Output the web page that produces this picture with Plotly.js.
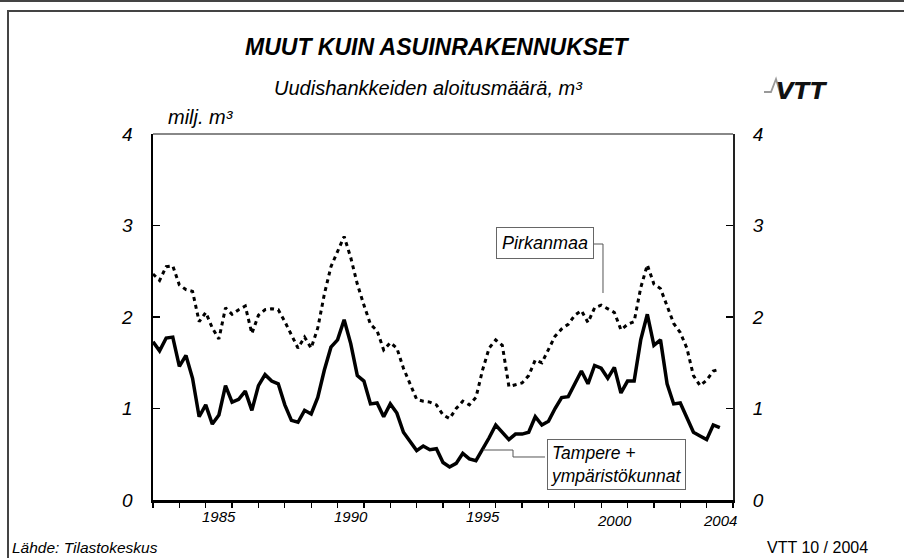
<!DOCTYPE html>
<html>
<head>
<meta charset="utf-8">
<script src="https://cdn.plot.ly/plotly-3.0.1.min.js"></script>
<style>html,body{margin:0;padding:0;background:#fff;}#chart{width:904px;height:558px;}</style>
</head>
<body>
<div id="chart"></div>
<script>
// Quarterly series, first quarter of 1983 onwards
const startYear = 1983;
const tampere = [1.73,1.63,1.77,1.78,1.46,1.58,1.33,0.91,1.04,0.83,0.93,1.25,1.07,1.10,1.19,0.98,1.25,1.37,1.30,1.27,1.04,0.87,0.85,0.98,0.94,1.12,1.42,1.67,1.75,1.97,1.71,1.36,1.30,1.05,1.06,0.91,1.05,0.95,0.74,0.64,0.54,0.59,0.55,0.56,0.41,0.36,
  0.40,0.51,0.45,0.43,0.55,0.68,0.82,0.74,0.66,0.72,0.72,0.74,0.91,0.82,0.86,1.00,1.12,1.13,1.27,1.41,1.27,1.47,1.44,1.33,1.45,1.17,1.30,1.30,1.75,2.03,1.69,1.75,1.27,1.05,1.06,0.91,0.74,0.70,0.66,0.82,0.79];
const pirkanmaa = [2.47,2.40,2.55,2.56,2.35,2.30,2.28,1.95,2.05,1.88,1.76,2.10,2.03,2.08,2.12,1.82,2.02,2.08,2.09,2.08,1.95,1.80,1.66,1.78,1.66,1.88,2.25,2.55,2.72,2.88,2.65,2.36,2.13,1.92,1.85,1.64,1.72,1.66,1.44,1.26,1.10,1.08,1.07,1.04,
  0.93,0.89,1.00,1.08,1.04,1.12,1.42,1.66,1.75,1.69,1.24,1.26,1.28,1.36,1.53,1.50,1.65,1.79,1.87,1.92,2.02,2.07,1.94,2.10,2.13,2.09,2.05,1.86,1.92,1.95,2.32,2.57,2.36,2.31,2.12,1.93,1.83,1.66,1.36,1.25,1.31,1.41,1.43];
const xLabels = ['1985','1990','1995','2000','2004'];
const yTicks = [0,1,2,3,4];

const quarters = tampere.map((_, i) => startYear + i / 4);

// pixel -> paper helpers (layout only)
const L = 153, R = 733, T = 134, B = 500;
const px = x => (x - L) / (R - L);
const py = y => (B - y) / (B - T);

const FONT = 'Liberation Sans, Arial, sans-serif';

const traces = [
  {x: quarters, y: pirkanmaa, type: 'scatter', mode: 'lines', name: 'Pirkanmaa',
   line: {color: '#000', width: 3, dash: '4px,4px'}},
  {x: quarters, y: tampere, type: 'scatter', mode: 'lines', name: 'Tampere + ympäristökunnat',
   line: {color: '#000', width: 3.5}}
];

const annotations = [
  {text: '<b><i>MUUT KUIN ASUINRAKENNUKSET</i></b>', xref: 'paper', yref: 'paper', x: px(437), y: py(47), xanchor: 'center', yanchor: 'middle', showarrow: false, font: {family: FONT, size: 23, color: '#000'}},
  {text: '<i>Uudishankkeiden aloitusmäärä, m³</i>', xref: 'paper', yref: 'paper', x: px(428), y: py(88), xanchor: 'center', yanchor: 'middle', showarrow: false, font: {family: FONT, size: 20, color: '#000'}},
  {text: '<i>milj. m³</i>', xref: 'paper', yref: 'paper', x: px(166), y: py(117), xanchor: 'left', yanchor: 'middle', showarrow: false, font: {family: FONT, size: 20, color: '#000'}},
  {text: '<i>Lähde: Tilastokeskus</i>', xref: 'paper', yref: 'paper', x: px(10), y: py(547), xanchor: 'left', yanchor: 'middle', showarrow: false, font: {family: FONT, size: 15.5, color: '#000'}},
  {text: 'VTT 10 / 2004', xref: 'paper', yref: 'paper', x: px(870), y: py(547), xanchor: 'right', yanchor: 'middle', showarrow: false, font: {family: FONT, size: 16, color: '#000'}},
  {text: '<b><i>VTT</i></b>', xref: 'paper', yref: 'paper', x: px(802), y: py(91), xanchor: 'center', yanchor: 'middle', showarrow: false, font: {family: 'DejaVu Sans, sans-serif', size: 23, color: '#111'}},
  {text: '<i>Pirkanmaa</i>', xref: 'paper', yref: 'paper', x: px(545), y: py(243), xanchor: 'center', yanchor: 'middle', showarrow: false, font: {family: FONT, size: 18, color: '#000'}, bgcolor: '#fff', bordercolor: '#666', borderwidth: 1, borderpad: 5},
  {text: '<i>Tampere +<br>ympäristökunnat</i>', align: 'left', xref: 'paper', yref: 'paper', x: px(616), y: py(464), xanchor: 'center', yanchor: 'middle', showarrow: false, font: {family: FONT, size: 17.5, color: '#000'}, bgcolor: '#fff', bordercolor: '#666', borderwidth: 1, borderpad: 3}
];
const xLabelY = [516, 516, 516, 520, 520];
xLabels.forEach((t, i) => {
  annotations.push({text: '<i>' + t + '</i>', x: +t + 0.5, xref: 'x', yref: 'paper', y: py(xLabelY[i]), xanchor: 'center', yanchor: 'middle', showarrow: false, font: {family: FONT, size: 15, color: '#000'}});
});

const P = (x, y) => px(x).toFixed(5) + ',' + py(y).toFixed(5);
const shapes = [
  // outer frame
  {type: 'line', xref: 'paper', yref: 'paper', x0: px(0), x1: px(904), y0: py(1), y1: py(1), line: {color: '#444', width: 2}},
  {type: 'path', xref: 'paper', yref: 'paper', path: 'M' + P(8, 562) + 'L' + P(8, 11) + 'L' + P(905, 11), line: {color: '#444', width: 2}},
  // top border of plot
  {type: 'line', xref: 'paper', yref: 'paper', x0: 0, x1: 1, y0: 1, y1: 1, line: {color: '#888', width: 2}},
  // connectors
  {type: 'path', xref: 'paper', yref: 'paper', path: 'M' + P(594, 244) + 'L' + P(603, 244) + 'L' + P(603, 293), line: {color: '#555', width: 1}},
  {type: 'path', xref: 'paper', yref: 'paper', path: 'M' + P(483, 450) + 'L' + P(513, 450) + 'L' + P(513, 457) + 'L' + P(545, 457), line: {color: '#555', width: 1}},
  // logo pulse
  {type: 'path', xref: 'paper', yref: 'paper', path: 'M' + P(764, 92) + 'L' + P(771, 92) + 'L' + P(776, 79) + 'L' + P(781, 96), line: {color: '#999', width: 1.8}}
];

const layout = {
  width: 904, height: 558,
  margin: {l: L, r: 904 - R, t: T, b: 558 - B, pad: 0},
  paper_bgcolor: '#fff', plot_bgcolor: '#fff',
  showlegend: false,
  xaxis: {range: [1983, 2005], tick0: 1983, dtick: 1, tickmode: 'linear', ticks: 'outside', ticklen: 5, tickwidth: 1.2, tickcolor: '#000',
          showticklabels: false, showgrid: false, zeroline: false, showline: true, linecolor: '#000', linewidth: 2.5},
  yaxis: {range: [0, 4], tickvals: yTicks, ticktext: yTicks.map(v => '<i>' + v + '</i>'), ticks: 'inside', ticklen: 7, tickwidth: 1.2, tickcolor: '#000',
          showgrid: false, zeroline: false, showline: true, linecolor: '#000', linewidth: 2.5, ticklabelstandoff: 14,
          tickfont: {family: FONT, size: 19, color: '#000'}},
  yaxis2: {range: [0, 4], overlaying: 'y', side: 'right', anchor: 'x', tickvals: yTicks, ticktext: yTicks.map(v => '<i>' + v + '</i>'), ticks: 'inside', ticklen: 7, tickwidth: 1.2, tickcolor: '#000',
           showgrid: false, zeroline: false, showline: true, linecolor: '#222', linewidth: 2, ticklabelstandoff: 14,
           tickfont: {family: FONT, size: 19, color: '#000'}},
  annotations: annotations,
  shapes: shapes
};
// dummy trace to activate yaxis2
traces.push({x: [1983], y: [0], yaxis: 'y2', type: 'scatter', mode: 'markers', marker: {opacity: 0}, hoverinfo: 'skip'});

Plotly.newPlot('chart', traces, layout, {staticPlot: true, displayModeBar: false});
</script>
</body>
</html>
